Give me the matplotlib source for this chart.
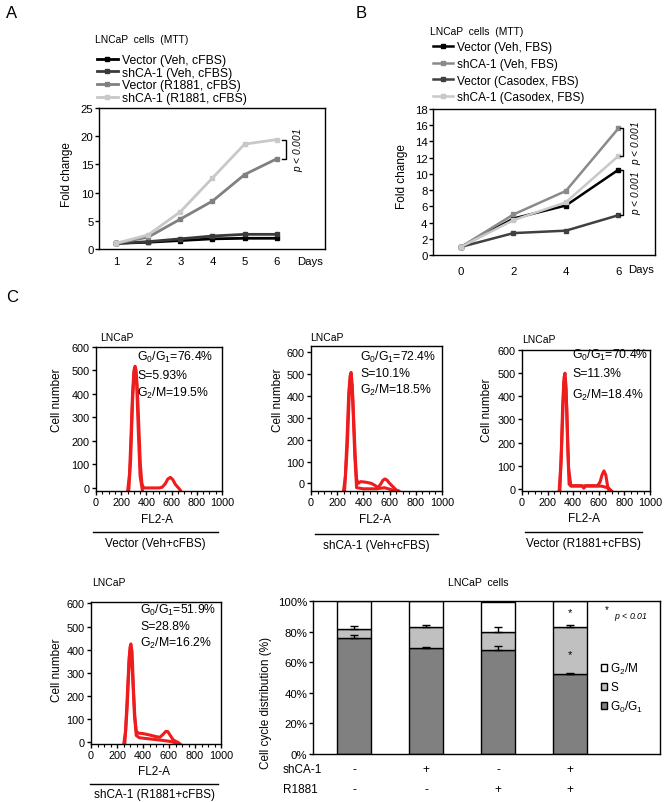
import matplotlib
matplotlib.use('Agg')
import matplotlib.pyplot as plt
from matplotlib.lines import Line2D
from matplotlib.ticker import MultipleLocator
import matplotlib.transforms as mtransforms

plt.rcParams['font.family'] = ['Liberation Sans', 'DejaVu Sans']
plt.rcParams['mathtext.fontset'] = 'custom'
plt.rcParams['mathtext.rm'] = 'Liberation Sans'
plt.rcParams['mathtext.it'] = 'Liberation Sans:italic'
plt.rcParams['axes.linewidth'] = 1.0

# ---------------- data ----------------
# Panel A
days_a = [1, 2, 3, 4, 5, 6]
a_vec_veh = [1.0, 1.2, 1.5, 1.8, 1.9, 1.9]
a_sh_veh = [1.0, 1.3, 1.8, 2.3, 2.6, 2.6]
a_vec_r = [1.0, 2.1, 5.3, 8.5, 13.2, 16.0]
a_sh_r = [1.0, 2.5, 6.6, 12.6, 18.6, 19.4]
a_labels = ['Vector (Veh, cFBS)', 'shCA-1 (Veh, cFBS)', 'Vector (R1881, cFBS)', 'shCA-1 (R1881, cFBS)']
a_yticks = [0, 5, 10, 15, 20, 25]

# Panel B
days_b = [0, 2, 4, 6]
b_vec_veh = [1.0, 4.5, 6.1, 10.5]
b_sh_veh = [1.0, 5.0, 7.9, 15.6]
b_vec_cas = [1.0, 2.7, 3.0, 4.9]
b_sh_cas = [1.0, 4.3, 6.5, 12.2]
b_labels = ['Vector (Veh, FBS)', 'shCA-1 (Veh, FBS)', 'Vector (Casodex, FBS)', 'shCA-1 (Casodex, FBS)']
b_yticks = [0, 2, 4, 6, 8, 10, 12, 14, 16, 18]

# Panel C histograms (FL2-A vs cell number), two traces each
h1_x = [252, 266, 278, 290, 301, 310, 318, 328, 340, 352, 364, 377, 500, 525, 550, 570, 590, 610, 630, 650, 670]
h1_y = [-10, 60, 220, 400, 500, 518, 502, 420, 260, 100, 20, 0, 0, 3, 18, 38, 45, 35, 15, 3, -10]
h1f_x = [260, 275, 290, 302, 312, 323, 336, 350, 368]
h1f_y = [-10, 120, 370, 490, 510, 440, 240, 50, -10]

h2_x = [248, 262, 276, 288, 298, 306, 315, 326, 338, 348, 360, 380, 420, 460, 490, 510, 530, 550, 565, 580, 600, 625, 650, 670]
h2_y = [-35, 30, 220, 410, 490, 508, 450, 290, 120, 20, 0, 8, 5, 0, -10, -20, -5, 15, 20, 15, 0, -15, -30, -35]
h2f_x = [256, 277, 294, 305, 318, 334, 348, 400, 500, 560, 620, 660]
h2f_y = [-35, 170, 440, 500, 390, 130, -20, -25, -25, -20, -30, -35]

h3_x = [290, 305, 317, 328, 336, 345, 356, 368, 382, 420, 470, 483, 495, 540, 590, 610, 625, 640, 655, 668, 680]
h3_y = [-9, 120, 350, 480, 500, 430, 200, 20, 14, 14, 14, 3, 14, 14, 14, 30, 60, 78, 60, 15, -9]
h3f_x = [296, 312, 327, 338, 350, 364, 382, 450, 550, 620, 650, 680, 700]
h3f_y = [-9, 220, 460, 480, 340, 90, 12, 12, 12, 12, 8, 2, -9]

h4_x = [252, 266, 279, 291, 300, 307, 316, 326, 337, 348, 362, 400, 450, 500, 530, 555, 575, 590, 610, 630, 650, 670, 685]
h4_y = [-7, 50, 200, 340, 410, 425, 390, 240, 110, 50, 40, 38, 32, 25, 22, 35, 47, 47, 30, 12, 5, 0, -7]
h4f_x = [260, 279, 295, 305, 318, 334, 348, 372, 450, 530, 600, 640, 670]
h4f_y = [-7, 160, 370, 410, 310, 120, 30, 20, 15, 10, 5, 0, -7]

hist_texts = [
    [r'G$_0$/G$_1$=76.4%', 'S=5.93%', r'G$_2$/M=19.5%'],
    [r'G$_0$/G$_1$=72.4%', 'S=10.1%', r'G$_2$/M=18.5%'],
    [r'G$_0$/G$_1$=70.4%', 'S=11.3%', r'G$_2$/M=18.4%'],
    [r'G$_0$/G$_1$=51.9%', 'S=28.8%', r'G$_2$/M=16.2%'],
]
hist_conditions = ['Vector (Veh+cFBS)', 'shCA-1 (Veh+cFBS)', 'Vector (R1881+cFBS)', 'shCA-1 (R1881+cFBS)']
hist_yticks = [0, 100, 200, 300, 400, 500, 600]
hist_xticks = [0, 200, 400, 600, 800, 1000]

# Cell cycle bar chart
bar_g1 = [75.5, 69.5, 68.0, 52.0]
bar_s = [6.5, 13.5, 12.0, 31.0]
bar_g2m = [18.0, 17.0, 19.5, 17.0]
bar_g1_err = [2.0, 0.5, 2.3, 1.0]
bar_s_err = [1.5, 1.5, 3.0, 1.5]
shca_row = ['-', '+', '-', '+']
r1881_row = ['-', '-', '+', '+']
bar_yticks = [0, 20, 40, 60, 80, 100]

# ---------------- layout helpers ----------------
W, H = 664, 803
fig = plt.figure(figsize=(W / 100, H / 100), dpi=100)
fig.patch.set_facecolor('white')


def rect(x0, x1, y0, y1):
    return [x0 / W, 1 - y1 / H, (x1 - x0) / W, (y1 - y0) / H]


def ftext(x, y, s, **kw):
    kw.setdefault('ha', 'center')
    kw.setdefault('va', 'center')
    return fig.text(x / W, 1 - y / H, s, **kw)


def fline(x0, x1, y0, y1, **kw):
    fig.add_artist(Line2D([x0 / W, x1 / W], [1 - y0 / H, 1 - y1 / H],
                          transform=fig.transFigure, color='black', lw=1.0, **kw))


# panel letters
ftext(12, 14, 'A', fontsize=12)
ftext(361, 14, 'B', fontsize=12)
ftext(12, 298, 'C', fontsize=12)

PTXT = 7.3

# ---------------- Panel A ----------------
axA = fig.add_axes(rect(99, 325, 109, 250))
colsA = ['#000000', '#3a3a3a', '#808080', '#c8c8c8']
for ys, c, lab in zip([a_vec_veh, a_sh_veh, a_vec_r, a_sh_r], colsA, a_labels):
    axA.plot(days_a, ys, color=c, lw=2.0, marker='s', ms=2.5, label=lab)
axA.set_xlim(0.47, 7.5)
axA.set_ylim(0, 25)
axA.set_yticks(a_yticks)
axA.set_xticks(days_a)
axA.tick_params(axis='x', length=0, labelsize=8.2, pad=5)
axA.tick_params(axis='y', length=3, width=1, labelsize=8.2, pad=1)
axA.text(7.05, -0.085, 'Days', transform=mtransforms.blended_transform_factory(axA.transData, axA.transAxes),
         ha='center', va='center', fontsize=8.2)
bx = 6.28
axA.plot([bx - 0.12, bx, bx, bx - 0.12], [19.4, 19.4, 16.0, 16.0], color='black', lw=1.0, clip_on=False)
axA.text(bx + 0.38, 17.7, r'$\it{p}$ < 0.001', rotation=90, ha='center', va='center', fontsize=PTXT, style='italic')
axA.legend(loc='upper left', bbox_to_anchor=(97 / W, 1 - 55 / H), bbox_transform=fig.transFigure,
           frameon=False, fontsize=8.8, handlelength=1.7, handletextpad=0.35, labelspacing=0.05,
           borderpad=0, borderaxespad=0)
ftext(95, 40, 'LNCaP  cells  (MTT)', ha='left', fontsize=7.4)
ftext(67, 175, 'Fold change', rotation=90, fontsize=8.5)

# ---------------- Panel B ----------------
axB = fig.add_axes(rect(433, 655, 110, 256))
colsB = ['#000000', '#8a8a8a', '#404040', '#c8c8c8']
for ys, c, lab in zip([b_vec_veh, b_sh_veh, b_vec_cas, b_sh_cas], colsB, b_labels):
    axB.plot(days_b, ys, color=c, lw=1.8, marker='s', ms=2.5, label=lab)
axB.set_xlim(-1.07, 7.4)
axB.set_ylim(0, 18)
axB.set_yticks(b_yticks)
axB.set_xticks(days_b)
axB.tick_params(axis='x', length=0, labelsize=8.2, pad=8)
axB.tick_params(axis='y', length=3, width=1, labelsize=8.2, pad=1)
axB.text(6.85, -0.095, 'Days', transform=mtransforms.blended_transform_factory(axB.transData, axB.transAxes),
         ha='center', va='center', fontsize=8.2)
bx = 6.18
axB.plot([bx - 0.12, bx, bx, bx - 0.12], [15.6, 15.6, 12.2, 12.2], color='black', lw=1.0)
axB.plot([bx - 0.12, bx, bx, bx - 0.12], [10.5, 10.5, 4.9, 4.9], color='black', lw=1.0)
axB.text(bx + 0.5, 13.9, r'$\it{p}$ < 0.001', rotation=90, ha='center', va='center', fontsize=PTXT, style='italic')
axB.text(bx + 0.5, 7.7, r'$\it{p}$ < 0.001', rotation=90, ha='center', va='center', fontsize=PTXT, style='italic')
axB.legend(loc='upper left', bbox_to_anchor=(433 / W, 1 - 42 / H), bbox_transform=fig.transFigure,
           frameon=False, fontsize=8.6, handlelength=1.7, handletextpad=0.3, labelspacing=0.4,
           borderpad=0, borderaxespad=0)
ftext(430, 32, 'LNCaP  cells  (MTT)', ha='left', fontsize=7.4)
ftext(402, 177, 'Fold change', rotation=90, fontsize=8.5)

# ---------------- Panel C histograms ----------------
hist_specs = [
    dict(r=(96, 222, 348, 492), yl=(-13, 600), cur=[(h1_x, h1_y), (h1f_x, h1f_y)],
         tt=(100, 338), tx=137, tys=(357, 376, 393), yla=(57, 400), fl=520, ln=(93, 218, 533), cy=544),
    dict(r=(311, 442, 347, 492), yl=(-35, 629), cur=[(h2_x, h2_y), (h2f_x, h2f_y)],
         tt=(310, 338), tx=360, tys=(357, 374, 390), yla=(278, 400), fl=520, ln=(315, 438, 535), cy=546),
    dict(r=(522, 650, 351, 492), yl=(-9, 600), cur=[(h3_x, h3_y), (h3f_x, h3f_y)],
         tt=(522, 340), tx=572, tys=(355, 374, 395), yla=(487, 410), fl=519, ln=(525, 642, 533), cy=544),
    dict(r=(91, 221, 603, 745), yl=(-7, 606), cur=[(h4_x, h4_y), (h4f_x, h4f_y)],
         tt=(92, 583), tx=140, tys=(610, 627, 643), yla=(57, 670), fl=772, ln=(90, 218, 785), cy=795),
]
for i, sp in enumerate(hist_specs):
    x0, x1, y0, y1 = sp['r']
    ax = fig.add_axes(rect(x0, x1, y0, y1))
    for cx, cy_ in sp['cur']:
        ax.plot(cx, cy_, color='#ee1c1c', lw=2.2, solid_joinstyle='round')
    ax.set_xlim(0, 1000)
    ax.set_ylim(*sp['yl'])
    ax.set_xticks(hist_xticks)
    ax.xaxis.set_minor_locator(MultipleLocator(50))
    ax.set_yticks(hist_yticks)
    ax.tick_params(axis='both', which='major', length=3, width=1, labelsize=7.8, pad=1.5)
    ax.tick_params(axis='x', which='minor', length=2, width=0.8)
    ftext(sp['tt'][0], sp['tt'][1], 'LNCaP', ha='left', fontsize=7.5)
    for s, yy in zip(hist_texts[i], sp['tys']):
        ftext(sp['tx'], yy, s, ha='left', fontsize=8.8)
    ftext(sp['yla'][0], sp['yla'][1], 'Cell number', rotation=90, fontsize=8.5)
    ftext((x0 + x1) / 2 - 2, sp['fl'], 'FL2-A', fontsize=8.5)
    lx0, lx1, ly = sp['ln']
    fline(lx0, lx1, ly, ly)
    ftext((lx0 + lx1) / 2, sp['cy'], hist_conditions[i], fontsize=8.5)

# ---------------- Bar chart ----------------
axC = fig.add_axes(rect(313, 660, 602, 755))
pos = list(range(len(bar_g1)))
bw = 0.47
s_bottom = bar_g1
g2_bottom = [a + b for a, b in zip(bar_g1, bar_s)]
axC.bar(pos, bar_g1, width=bw, color='#808080', edgecolor='black', lw=1.0, label=r'G$_0$/G$_1$')
axC.bar(pos, bar_s, width=bw, bottom=s_bottom, color='#c0c0c0', edgecolor='black', lw=1.0, label='S')
axC.bar(pos, bar_g2m, width=bw, bottom=g2_bottom, color='white', edgecolor='black', lw=1.0, label=r'G$_2$/M')
axC.errorbar(pos, bar_g1, yerr=[[0] * 4, bar_g1_err], fmt='none', ecolor='black', elinewidth=1, capsize=3, capthick=1)
axC.errorbar(pos, g2_bottom, yerr=[[0] * 4, bar_s_err], fmt='none', ecolor='black', elinewidth=1, capsize=3, capthick=1)
axC.set_xlim(-0.57, 4.25)
axC.set_ylim(0, 100)
axC.set_yticks(bar_yticks)
axC.set_yticklabels([f'{v}%' for v in bar_yticks])
axC.set_xticks([])
axC.tick_params(axis='y', length=3, width=1, labelsize=8.2, pad=1)
axC.text(3, 93, '*', ha='center', va='center', fontsize=8)
axC.text(3, 65, '*', ha='center', va='center', fontsize=8)
ftext(607, 610, '*', fontsize=7)
ftext(614, 617, r'$\it{p}$ < 0.01', ha='left', fontsize=6.3, style='italic')
h, l = axC.get_legend_handles_labels()
axC.legend(h[::-1], l[::-1], loc='upper left', bbox_to_anchor=(601 / W, 1 - 662 / H), bbox_transform=fig.transFigure,
           frameon=False, fontsize=8.5, handlelength=0.5, handleheight=0.5, handletextpad=0.3,
           labelspacing=0.45, borderpad=0, borderaxespad=0)
tr = mtransforms.blended_transform_factory(axC.transData, axC.transAxes)
for p, a, b in zip(pos, shca_row, r1881_row):
    axC.text(p, -0.1, a, transform=tr, ha='center', va='center', fontsize=8.5)
    axC.text(p, -0.23, b, transform=tr, ha='center', va='center', fontsize=8.5)
ftext(322, 770, 'shCA-1', ha='right', fontsize=8.5)
ftext(318, 790, 'R1881', ha='right', fontsize=8.5)
ftext(478, 583, 'LNCaP  cells', fontsize=7.6)
ftext(266, 703, 'Cell cycle distribution (%)', rotation=90, fontsize=8.5)

fig.savefig('out.png', dpi=100)
